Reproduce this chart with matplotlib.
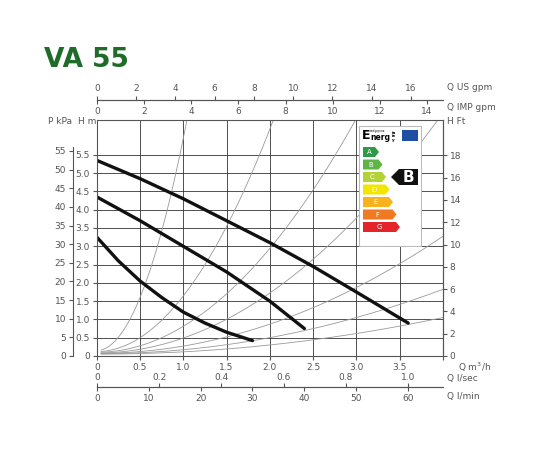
import numpy as np
import matplotlib
matplotlib.use('Agg')
import matplotlib.pyplot as plt
from matplotlib.patches import Polygon, Rectangle

# pump curves (Q m3/h, H m)
q_top = [0, 0.5, 1.0, 1.5, 2.0, 2.5, 3.0, 3.6]
h_top = [5.35, 4.85, 4.3, 3.7, 3.1, 2.45, 1.75, 0.9]
q_mid = [0, 0.5, 1.0, 1.5, 2.0, 2.4]
h_mid = [4.35, 3.7, 3.0, 2.3, 1.5, 0.75]
q_low = [0, 0.25, 0.5, 0.75, 1.0, 1.25, 1.5, 1.8]
h_low = [3.25, 2.6, 2.05, 1.6, 1.2, 0.9, 0.65, 0.42]
# system curves H = h0 + k*Q^2
sys_k = [5.8, 1.52, 0.71, 0.41, 0.2, 0.11, 0.0625]
sys_h0 = [0.15, 0.12, 0.1, 0.08, 0.07, 0.06, 0.05]

classes = ['A', 'B', 'C', 'D', 'E', 'F', 'G']
class_colors = ['#2e9a47', '#5db546', '#b3d335', '#f2e500', '#f7b21d', '#ef7a22', '#e3242b']

GREY = '#555555'
fig = plt.figure(figsize=(5.5, 4.5), dpi=100)
ax = fig.add_axes([0.176, 0.209, 0.629, 0.524])
ax.set_xlim(0, 4.0)
ax.set_ylim(0, 6.45)
ax.set_xticks(np.arange(0, 4.01, 0.5))
ax.set_xticklabels(['0', '0.5', '1.0', '1.5', '2.0', '2.5', '3.0', '3.5', ''])
ax.set_yticks(np.arange(0, 5.51, 0.5))
ax.set_yticklabels(['0', '0.5', '1.0', '1.5', '2.0', '2.5', '3.0', '3.5', '4.0', '4.5', '5.0', '5.5'])
ax.grid(True, color='#333333', lw=0.6)
ax.tick_params(labelsize=6.5, colors=GREY, length=3, pad=2)
for s in ax.spines.values():
    s.set_color(GREY)
    s.set_linewidth(0.8)

for k, h0 in zip(sys_k, sys_h0):
    q = np.linspace(0.05, 4.0, 200)
    ax.plot(q, h0 + k * q**2, color='#999999', lw=0.6)

for q, h in [(q_top, h_top), (q_mid, h_mid), (q_low, h_low)]:
    ax.plot(q, h, color='#111111', lw=2.4, solid_capstyle='round')

# right H ft
ft = ax.secondary_yaxis('right', functions=(lambda m: m / 0.3048, lambda f: f * 0.3048))
ft.set_yticks(np.arange(0, 19, 2))
ft.tick_params(labelsize=6.5, colors=GREY, length=3, pad=2)

# left P kPa
kpa = ax.secondary_yaxis(-0.069, functions=(lambda m: m * 9.81, lambda p: p / 9.81))
kpa.set_yticks(np.arange(0, 56, 5))
kpa.tick_params(labelsize=6.5, colors=GREY, length=3, pad=2)
kpa.spines['left'].set_bounds(0, 56)

# top gpm axes
us = ax.secondary_xaxis(1.085, functions=(lambda m: m / 0.2271, lambda g: g * 0.2271))
us.set_xticks(np.arange(0, 17, 2))
us.tick_params(labelsize=6.5, colors=GREY, length=3, pad=2)
imp = ax.secondary_xaxis(1.085, functions=(lambda m: m / 0.2728, lambda g: g * 0.2728))
imp.set_xticks(np.arange(0, 15, 2))
imp.xaxis.set_tick_params(top=False, labeltop=False, bottom=True, labelbottom=True)
imp.tick_params(labelsize=6.5, colors=GREY, length=3, pad=2)

# bottom l/sec and l/min
lmin = ax.secondary_xaxis(-0.132, functions=(lambda m: m / 0.06, lambda l: l * 0.06))
lmin.set_xticks(np.arange(0, 61, 10))
lmin.tick_params(labelsize=6.5, colors=GREY, length=3, pad=2)
lsec = ax.secondary_xaxis(-0.132, functions=(lambda m: m / 3.6, lambda l: l * 3.6))
lsec.set_xticks([0, 0.2, 0.4, 0.6, 0.8, 1.0])
lsec.set_xticklabels(['0', '0.2', '0.4', '0.6', '0.8', '1.0'])
lsec.xaxis.set_tick_params(bottom=False, labelbottom=False, top=True, labeltop=True)
lsec.tick_params(labelsize=6.5, colors=GREY, length=3, pad=1)
for a in (us, imp, lmin, lsec, ft, kpa):
    for s in a.spines.values():
        s.set_color(GREY)
        s.set_linewidth(0.8)

lab = dict(fontsize=6.5, color=GREY, va='center')
fig.text(447 / 550, 1 - 88 / 450, 'Q US gpm', **lab)
fig.text(447 / 550, 1 - 108 / 450, 'Q IMP gpm', **lab)
fig.text(447 / 550, 1 - 122 / 450, 'H Ft', **lab)
fig.text(48 / 550, 1 - 122 / 450, 'P kPa', **lab)
fig.text(78 / 550, 1 - 122 / 450, 'H m', **lab)
fig.text(458 / 550, 1 - 367 / 450, 'Q m$^3$/h', **lab)
fig.text(447 / 550, 1 - 378 / 450, 'Q l/sec', **lab)
fig.text(447 / 550, 1 - 397 / 450, 'Q l/min', **lab)

fig.text(44 / 550, 1 - 60 / 450, 'VA 55', fontsize=19, fontweight='bold',
         color='#1f6b2a', va='center')

# energy label
el = fig.add_axes([358 / 550, 1 - 247 / 450, 64 / 550, 122 / 450])
el.set_xlim(0, 64)
el.set_ylim(122, 0)
el.axis('off')
el.add_patch(Rectangle((1, 1), 62, 120, fc='white', ec='#bbbbbb', lw=0.8))
el.text(4, 17, 'E', fontsize=9, fontweight='bold', va='bottom')
el.text(12, 17, 'nerg', fontsize=5.5, fontweight='bold', va='bottom')
el.text(12, 8, 'ενέργεια', fontsize=2.5, va='bottom')
el.text(34, 17, 'ia\nie\ny', fontsize=3, fontweight='bold', va='bottom', linespacing=0.9)
el.add_patch(Rectangle((44, 5), 16, 11, fc='#1f4fa3'))
for i, (c, col) in enumerate(zip(classes, class_colors)):
    y = 22 + i * 12.5
    w = 12 + i * 3.5
    el.add_patch(Polygon([(5, y), (5 + w, y), (9 + w, y + 5), (5 + w, y + 10), (5, y + 10)],
                         closed=True, fc=col, ec='none'))
    el.text(5 + w / 2, y + 5.3, c, fontsize=5, color='white', ha='center', va='center')
el.add_patch(Polygon([(41, 44), (60, 44), (60, 60), (41, 60), (33, 52)], closed=True, fc='#111111'))
el.text(50, 52.5, 'B', fontsize=11, fontweight='bold', color='white', ha='center', va='center')

fig.savefig('out.png', dpi=100)
